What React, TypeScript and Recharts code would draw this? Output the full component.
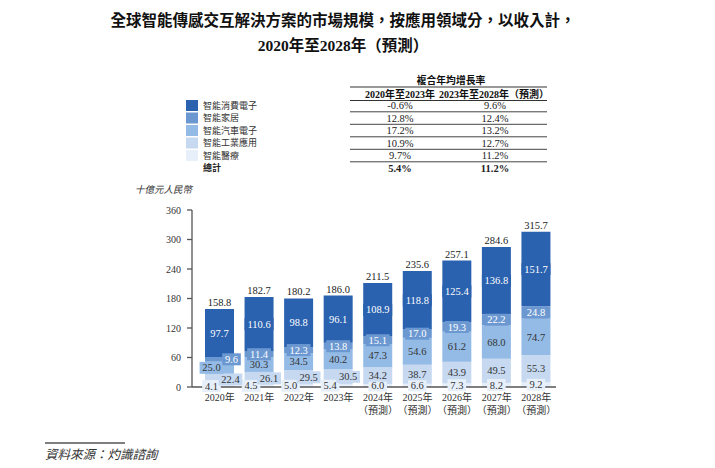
import React from 'react'
import { BarChart, Bar, XAxis, YAxis, LabelList } from 'recharts'

const years = ['2020年', '2021年', '2022年', '2023年', '2024年', '2025年', '2026年', '2027年', '2028年']
const isForecast = [false, false, false, false, true, true, true, true, true]
const consumer = [97.7, 110.6, 98.8, 96.1, 108.9, 118.8, 125.4, 136.8, 151.7]
const home = [9.6, 11.4, 12.3, 13.8, 15.1, 17.0, 19.3, 22.2, 24.8]
const auto = [25.0, 30.3, 34.5, 40.2, 47.3, 54.6, 61.2, 68.0, 74.7]
const industrial = [22.4, 26.1, 29.5, 30.5, 34.2, 38.7, 43.9, 49.5, 55.3]
const medical = [4.1, 4.5, 5.0, 5.4, 6.0, 6.6, 7.3, 8.2, 9.2]
const totals = [158.8, 182.7, 180.2, 186.0, 211.5, 235.6, 257.1, 284.6, 315.7]
const yTicks = [0, 60, 120, 180, 240, 300, 360]

const segmentNames = ['智能消費電子', '智能家居', '智能汽車電子', '智能工業應用', '智能醫療']
const cagrHead = ['2020年至2023年', '2023年至2028年（預測）']
const cagrFirst = ['-0.6%', '12.8%', '17.2%', '10.9%', '9.7%', '5.4%']
const cagrSecond = ['9.6%', '12.4%', '13.2%', '12.7%', '11.2%', '11.2%']

const data = years.map((year, i) => ({
  year,
  forecast: isForecast[i],
  consumer: consumer[i],
  home: home[i],
  auto: auto[i],
  industrial: industrial[i],
  medical: medical[i],
}))

const C_CONSUMER = '#2a62b0'
const C_HOME = '#6c98d1'
const C_AUTO = '#94bbe6'
const C_INDUSTRIAL = '#c6d9f1'
const C_MEDICAL = '#e7f0fa'
const legendColors = [C_CONSUMER, C_HOME, C_AUTO, C_INDUSTRIAL, C_MEDICAL]

const SERIF = "'Liberation Serif', 'Noto Sans CJK TC', serif"
const CJK = "'Noto Sans CJK TC', 'Liberation Serif', sans-serif"

// label nudges for the crowded early years
const medicalShift = [-8, -8, -8, -8, 0, 0, 0, 0, 0]
const industrialShift = [11, 10, 10, 10, 0, 0, 0, 0, 0]
const autoShift = [-8, 0, 0, 0, 0, 0, 0, 0, 0]
const homeShift = [12, 0, 0, 0, 0, 0, 0, 0, 0]

const segLabel = (bg: string, color: string, shift?: number[]) => (props: any) => {
  const vb = props.viewBox || {}
  const x = props.x ?? vb.x
  const y = props.y ?? vb.y
  const width = props.width ?? vb.width
  const height = props.height ?? vb.height
  const idx = props.index ?? 0
  const txt = Number(props.value).toFixed(1)
  const cx = x + width / 2 + (shift ? shift[idx] : 0)
  const cy = y + height / 2
  const w = txt.length * 5.2 + 3
  return (
    <g>
      <rect x={cx - w / 2} y={cy - 6} width={w} height={12} fill={bg} />
      <text x={cx} y={cy + 3.6} textAnchor="middle" fontSize={10.5} fontFamily={SERIF} fill={color}>
        {txt}
      </text>
    </g>
  )
}

const totalLabel = (props: any) => {
  const vb = props.viewBox || {}
  const x = props.x ?? vb.x
  const y = props.y ?? vb.y
  const width = props.width ?? vb.width
  const idx = props.index ?? 0
  return (
    <text x={x + width / 2} y={y - 3} textAnchor="middle" fontSize={10.5} fontFamily={SERIF} fill="#222">
      {totals[idx].toFixed(1)}
    </text>
  )
}

const XTick = (props: any) => {
  const { x, y, payload, index } = props
  return (
    <g>
      <text x={x} y={y + 14} textAnchor="middle" fontSize={10} fontFamily={SERIF} fill="#333">
        {payload.value}
      </text>
      {isForecast[index] && (
        <text x={x} y={y + 26.5} textAnchor="middle" fontSize={10} fontFamily={SERIF} fill="#333">
          （預測）
        </text>
      )}
    </g>
  )
}

export default function App() {
  const rowY = [105.5, 118, 130.5, 143, 155.5, 168]
  const lineY = [111.8, 124.3, 136.8, 149.3, 161.8]
  return (
    <div style={{ position: 'absolute', left: 0, top: 0, width: 715, height: 468, background: '#fff' }}>
      <BarChart
        width={715}
        height={468}
        data={data}
        margin={{ top: 210, right: 159, bottom: 51, left: 132 }}
        barSize={29}
      >
        <XAxis
          dataKey="year"
          padding={{ left: 8, right: 0 }}
          tickLine={false}
          tickSize={0}
          tickMargin={0}
          height={30}
          stroke="#555"
          strokeWidth={1.3}
          tick={<XTick />}
          interval={0}
        />
        <YAxis
          domain={[0, 360]}
          ticks={yTicks}
          width={60}
          tickSize={5}
          tickMargin={6}
          stroke="#555"
          strokeWidth={1.3}
          tick={{ fontSize: 10, fontFamily: SERIF, fill: '#333' }}
        />
        <Bar dataKey="medical" stackId="a" fill={C_MEDICAL} isAnimationActive={false}>
          <LabelList dataKey="medical" content={segLabel(C_MEDICAL, '#333', medicalShift)} />
        </Bar>
        <Bar dataKey="industrial" stackId="a" fill={C_INDUSTRIAL} isAnimationActive={false}>
          <LabelList dataKey="industrial" content={segLabel(C_INDUSTRIAL, '#333', industrialShift)} />
        </Bar>
        <Bar dataKey="auto" stackId="a" fill={C_AUTO} isAnimationActive={false}>
          <LabelList dataKey="auto" content={segLabel(C_AUTO, '#333', autoShift)} />
        </Bar>
        <Bar dataKey="home" stackId="a" fill={C_HOME} isAnimationActive={false}>
          <LabelList dataKey="home" content={segLabel(C_HOME, '#fff', homeShift)} />
        </Bar>
        <Bar dataKey="consumer" stackId="a" fill={C_CONSUMER} isAnimationActive={false}>
          <LabelList dataKey="consumer" content={segLabel(C_CONSUMER, '#fff')} />
          <LabelList dataKey="consumer" content={totalLabel} />
        </Bar>
      </BarChart>

      <svg width={715} height={468} style={{ position: 'absolute', left: 0, top: 0, pointerEvents: 'none' }}>
        <text x={343} y={25.5} textAnchor="middle" fontSize={15.5} fontWeight="bold" fontFamily={CJK} fill="#111">
          全球智能傳感交互解決方案的市場規模，按應用領域分，以收入計，
        </text>
        <text x={343} y={50.5} textAnchor="middle" fontSize={15.5} fontWeight="bold" fontFamily={SERIF} fill="#111">
          2020年至2028年（預測）
        </text>

        <text x={451} y={84} textAnchor="middle" fontSize={9.8} fontWeight="bold" fontFamily={SERIF} fill="#111">
          複合年均增長率
        </text>
        <line x1={350} x2={547} y1={87} y2={87} stroke="#333" strokeWidth={1} />
        <text x={400} y={97.5} textAnchor="middle" fontSize={10} fontWeight="bold" fontFamily={SERIF} fill="#111">
          {cagrHead[0]}
        </text>
        <text x={494} y={97.5} textAnchor="middle" fontSize={10} fontWeight="bold" fontFamily={SERIF} fill="#111">
          {cagrHead[1]}
        </text>
        <line x1={350} x2={547} y1={100.5} y2={100.5} stroke="#333" strokeWidth={1.2} />
        {lineY.map((ly) => (
          <line key={ly} x1={350} x2={547} y1={ly} y2={ly} stroke="#444" strokeWidth={1} />
        ))}
        {cagrFirst.map((v, i) => (
          <text key={'a' + i} x={400} y={rowY[i] + 3.6} textAnchor="middle" fontSize={10.5} fontFamily={SERIF}
            fontWeight={i === 5 ? 'bold' : 'normal'} fill="#222">
            {v}
          </text>
        ))}
        {cagrSecond.map((v, i) => (
          <text key={'b' + i} x={495} y={rowY[i] + 3.6} textAnchor="middle" fontSize={10.5} fontFamily={SERIF}
            fontWeight={i === 5 ? 'bold' : 'normal'} fill="#222">
            {v}
          </text>
        ))}

        {segmentNames.map((n, i) => (
          <g key={n}>
            <rect x={186} y={rowY[i] - 5.5} width={12} height={11} fill={legendColors[i]} />
            <text x={203} y={rowY[i] + 3.3} fontSize={9} fontFamily={CJK} fill="#333">
              {n}
            </text>
          </g>
        ))}
        <text x={203} y={rowY[5] + 3.3} fontSize={9} fontWeight="bold" fontFamily={CJK} fill="#222">
          總計
        </text>

        <text x={135} y={193} fontSize={9.5} fontStyle="italic" fontFamily={CJK} fill="#333">
          十億元人民幣
        </text>

        <line x1={45} x2={125} y1={443} y2={443} stroke="#555" strokeWidth={1.3} />
        <text x={45} y={458.5} fontSize={12.5} fontStyle="italic" fontFamily={CJK} fill="#333">
          資料來源：灼識諮詢
        </text>
      </svg>
    </div>
  )
}
